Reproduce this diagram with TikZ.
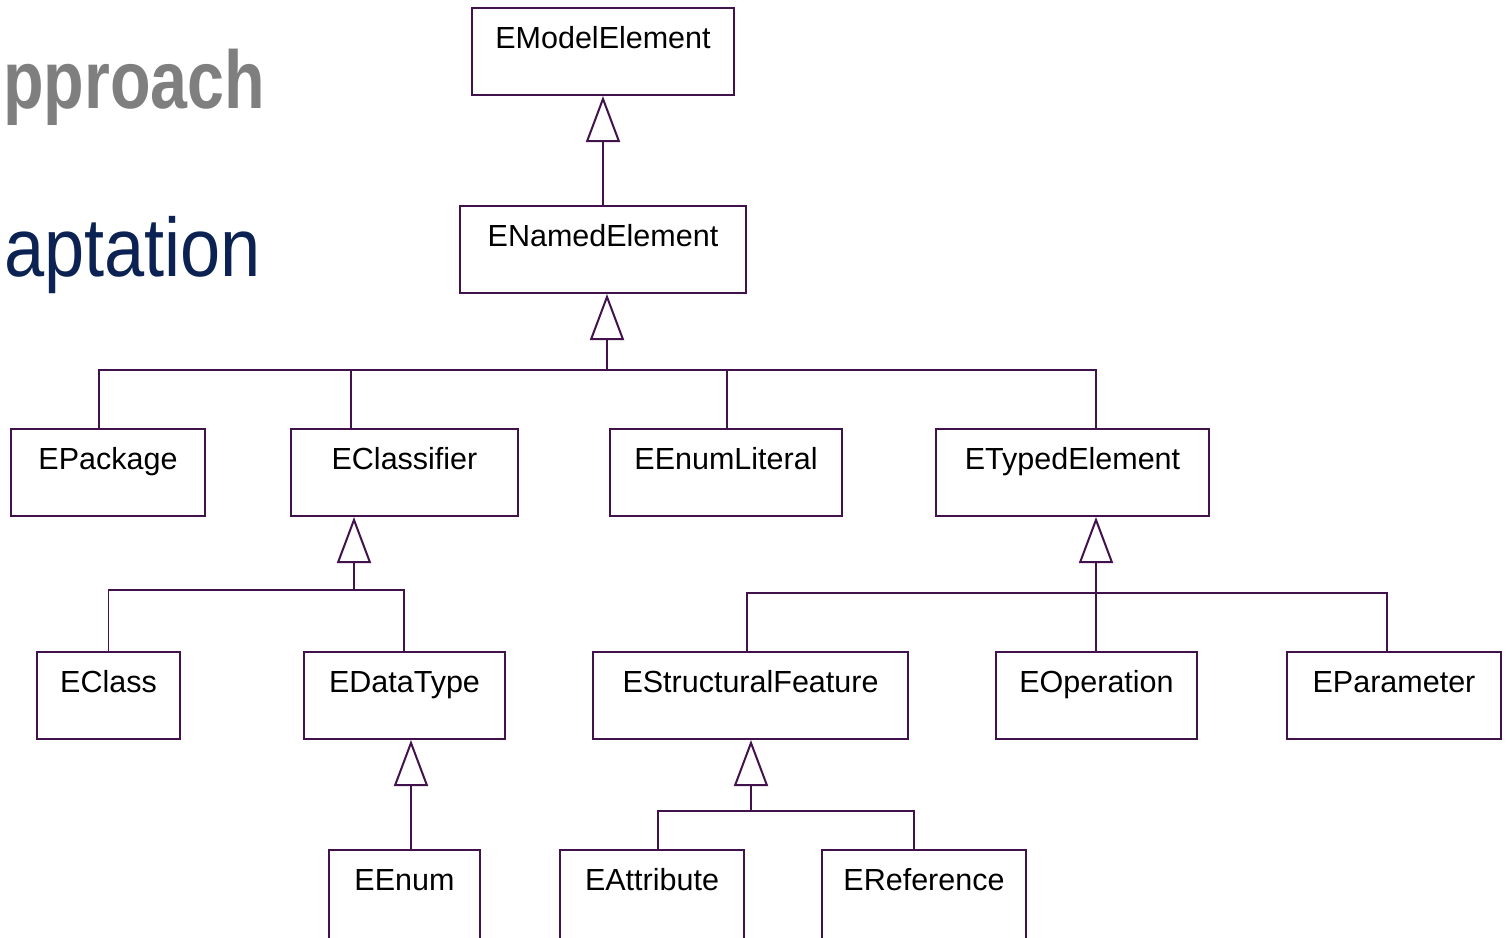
\documentclass[tikz,border=0pt]{standalone}
\usepackage{fontspec}
\setmainfont{Liberation Sans}
\newfontfamily\graybold[FakeStretch=0.81]{Liberation Sans Bold}
\newfontfamily\navyreg[FakeStretch=0.87]{Liberation Sans}
\usetikzlibrary{arrows.meta,calc}
\definecolor{uml}{RGB}{66,18,76}
\definecolor{titlegray}{RGB}{127,127,127}
\definecolor{titlenavy}{RGB}{12,34,82}
\tikzset{
  umlbox/.style={draw=uml, line width=2pt, rectangle, inner sep=0pt,
    minimum height=87pt},
  boxtext/.style={font=\fontsize{30.5}{30.5}\selectfont, text=black,
    anchor=base, inner sep=0pt},
  conn/.style={draw=uml, line width=1.6pt},
  gen/.style={draw=uml, line width=1.6pt,
    -{Triangle[open, length=46pt, width=34pt, line width=2pt]}},
}
\newcommand{\umlnode}[5]{%
  \node[umlbox, minimum width=#3pt, #5] (#1) at (#2) {};
  \node[boxtext] (#1t) at ([yshift=-41pt]#1.north) {#4};
}
\begin{document}
\begin{tikzpicture}[x=1pt,y=-1pt]
\clip (0,0) rectangle (1507,937);
\fill[white] (0,0) rectangle (1507,937);

% titles (cropped slide text)
\node[anchor=base west, inner sep=0pt, text=titlegray,
  font=\graybold\fontsize{82}{82}\selectfont] (ttl1) at (3,108) {pproach};
\node[anchor=base west, inner sep=0pt, text=titlenavy,
  font=\navyreg\fontsize{83}{83}\selectfont] (ttl2) at (4,276) {aptation};

% boxes
\umlnode{emodel}{603,51.5}{262}{EModelElement}{}
\umlnode{enamed}{603,249.5}{286}{ENamedElement}{}
\umlnode{epackage}{108,472.5}{194}{EPackage}{}
\umlnode{eclassifier}{404.5,472.5}{227}{EClassifier}{}
\umlnode{eenumlit}{726,472.5}{232}{EEnumLiteral}{}
\umlnode{etyped}{1072.5,472.5}{273}{ETypedElement}{}
\umlnode{eclass}{108.5,695.5}{143}{EClass}{}
\umlnode{edatatype}{404.5,695.5}{201}{EDataType}{}
\umlnode{estruct}{750.5,695.5}{315}{EStructuralFeature}{}
\umlnode{eoperation}{1096.5,695.5}{201}{EOperation}{}
\umlnode{eparameter}{1394,695.5}{214}{EParameter}{}
\umlnode{eenum}{404.5,900}{151}{EEnum}{minimum height=100pt}
\umlnode{eattr}{652,900}{184}{EAttribute}{minimum height=100pt}
\umlnode{eref}{924,900}{204}{EReference}{minimum height=100pt}

% junction points
\coordinate (j1) at (607,370);
\coordinate (j2) at (354,590);
\coordinate (j3) at (1096,593);
\coordinate (j4) at (751,811);

% EModelElement <- ENamedElement
\draw[gen] (enamed.north) -- (emodel.south);

% ENamedElement hierarchy
\draw[gen] (j1) -- (j1 |- enamed.south);
\draw[conn] ([xshift=-9pt]epackage.north) |- ([xshift=23.5pt]etyped.north |- j1)
  -- ([xshift=23.5pt]etyped.north);
\draw[conn] ([xshift=-53.5pt]eclassifier.north) -- ([xshift=-53.5pt]eclassifier.north |- j1);
\draw[conn] ([xshift=1pt]eenumlit.north) -- ([xshift=1pt]eenumlit.north |- j1);

% EClassifier hierarchy
\draw[gen] (j2) -- (j2 |- eclassifier.south);
\draw[conn] (eclass.north) |- ([xshift=-0.5pt]edatatype.north |- j2) -- ([xshift=-0.5pt]edatatype.north);

% ETypedElement hierarchy
\draw[gen] ([xshift=-0.5pt]eoperation.north) -- ([xshift=-0.5pt]eoperation.north |- etyped.south);
\draw[conn] ([xshift=-3.5pt]estruct.north) |- ([xshift=-7pt]eparameter.north |- j3)
  -- ([xshift=-7pt]eparameter.north);

% EDataType <- EEnum
\draw[gen] ([xshift=6.5pt]eenum.north) -- ([xshift=6.5pt]edatatype.south);

% EStructuralFeature hierarchy
\draw[gen] (j4) -- (j4 |- estruct.south);
\draw[conn] ([xshift=6pt]eattr.north) |- ([xshift=-10pt]eref.north |- j4) -- ([xshift=-10pt]eref.north);
\end{tikzpicture}
\end{document}
